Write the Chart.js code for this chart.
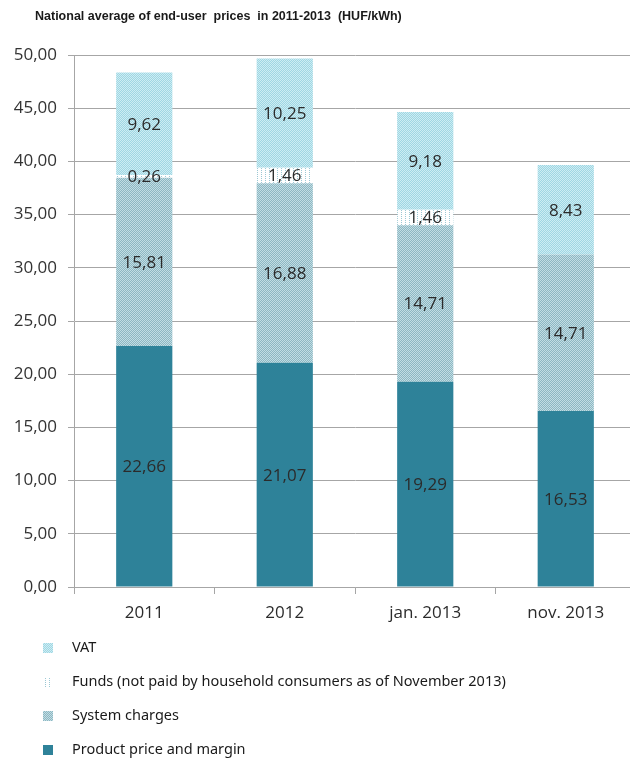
<!DOCTYPE html>
<html>
<head>
<meta charset="utf-8">
<title>End-user prices 2011-2013</title>
<script src="https://cdn.jsdelivr.net/npm/chart.js@4.4.1/dist/chart.umd.min.js"></script>
<style>
  html, body { margin: 0; padding: 0; background: #fff; overflow: hidden; }
  #grafico { display: block; }
</style>
</head>
<body>
<canvas id="grafico" width="636" height="758"></canvas>
<script>
// valores em HUF/kWh
const categorias = ["2011", "2012", "jan. 2013", "nov. 2013"];
const precoProduto = [22.66, 21.07, 19.29, 16.53];
const encargosSistema = [15.81, 16.88, 14.71, 14.71];
const fundos = [0.26, 1.46, 1.46, 0];
const iva = [9.62, 10.25, 9.18, 8.43];
const eixoY = { min: 0, max: 50, passo: 5 };

const titulo = "National average of end-user  prices  in 2011-2013  (HUF/kWh)";
const nomes = {
  produto: "Product price and margin",
  sistema: "System charges",
  fundos: "Funds (not paid by household consumers as of November 2013)",
  iva: "VAT",
};

// textura pontilhada simples para as barras
function geraTextura(fundo, ponto, esparso) {
  const c = document.createElement("canvas");
  c.width = 4;
  c.height = 4;
  const g = c.getContext("2d");
  g.fillStyle = fundo;
  g.fillRect(0, 0, 4, 4);
  g.fillStyle = ponto;
  for (let x = 0; x < 4; x++) {
    for (let y = 0; y < 4; y++) {
      if (esparso) {
        if (x == 1 && y % 2 == 0) g.fillRect(x, y, 1, 1);
      } else if ((x + y) % 2 == 0) {
        g.fillRect(x, y, 1, 1);
      }
    }
  }
  return g.createPattern(c, "repeat");
}

const corProduto = "#2e8299";
const texturaSistema = geraTextura("#8db7c2", "#c2dde4", false);
const texturaIva = geraTextura("#9fd6e3", "#cdedf3", false);
const texturaFundos = geraTextura("#ffffff", "#9cc8d4", true);

function formata(v) {
  return v.toFixed(2).replace(".", ",");
}

// rótulos com o valor no meio de cada segmento
const rotulosPlugin = {
  id: "rotulos",
  afterDatasetsDraw(chart) {
    const ctx = chart.ctx;
    ctx.save();
    ctx.font = "17px 'Open Sans'";
    ctx.fillStyle = "#2b2b2b";
    ctx.textAlign = "center";
    ctx.textBaseline = "middle";
    chart.data.datasets.forEach((ds, i) => {
      const meta = chart.getDatasetMeta(i);
      meta.data.forEach((barra, j) => {
        const v = ds.data[j];
        if (!v) return;
        ctx.fillText(formata(v), barra.x, (barra.y + barra.base) / 2 + 1);
      });
    });
    ctx.restore();
  },
};

// título e legenda vertical abaixo do gráfico
const molduraPlugin = {
  id: "moldura",
  afterDraw(chart) {
    const ctx = chart.ctx;
    ctx.save();
    ctx.fillStyle = "#1a1a1a";
    ctx.textBaseline = "middle";
    ctx.textAlign = "left";
    ctx.font = "bold 12.5px 'Liberation Sans'";
    ctx.fillText(titulo, 35, 17);

    ctx.font = "14.5px 'Noto Sans'";
    const lista = chart.data.datasets.slice().reverse();
    lista.forEach((ds, i) => {
      const y = 648 + i * 34;
      ctx.fillStyle = ds.backgroundColor;
      ctx.fillRect(43, y - 5, 10, 10);
      ctx.fillStyle = "#1a1a1a";
      ctx.fillText(ds.label, 72, y);
    });
    ctx.restore();
  },
};

const data = {
  labels: categorias,
  datasets: [
    { label: nomes.produto, data: precoProduto, backgroundColor: corProduto },
    { label: nomes.sistema, data: encargosSistema, backgroundColor: texturaSistema },
    { label: nomes.fundos, data: fundos, backgroundColor: texturaFundos },
    { label: nomes.iva, data: iva, backgroundColor: texturaIva },
  ],
};

const config = {
  type: "bar",
  data: data,
  plugins: [rotulosPlugin, molduraPlugin],
  options: {
    responsive: false,
    animation: false,
    datasets: {
      bar: { barPercentage: 0.4, categoryPercentage: 1, borderWidth: 0 },
    },
    layout: { padding: { top: 55, left: 0, right: 0, bottom: 131 } },
    plugins: {
      legend: { display: false },
      title: { display: false },
      tooltip: { enabled: false },
    },
    scales: {
      x: {
        stacked: true,
        grid: { drawOnChartArea: false, color: "#a6a6a6", tickLength: 7, offset: true },
        border: { color: "#a6a6a6" },
        ticks: { color: "#2b2b2b", font: { family: "Open Sans", size: 17 }, padding: 9 },
        afterFit(scale) {
          scale.height = 40;
        },
      },
      y: {
        stacked: true,
        min: eixoY.min,
        max: eixoY.max,
        ticks: {
          stepSize: eixoY.passo,
          color: "#333333",
          font: { family: "Open Sans", size: 17 },
          padding: 11,
          callback: (v) => formata(v),
        },
        grid: { color: "#a6a6a6", tickLength: 6 },
        border: { color: "#a6a6a6" },
        afterFit(scale) {
          scale.width = 74;
        },
      },
    },
  },
};

new Chart(document.getElementById("grafico"), config);
</script>
</body>
</html>
